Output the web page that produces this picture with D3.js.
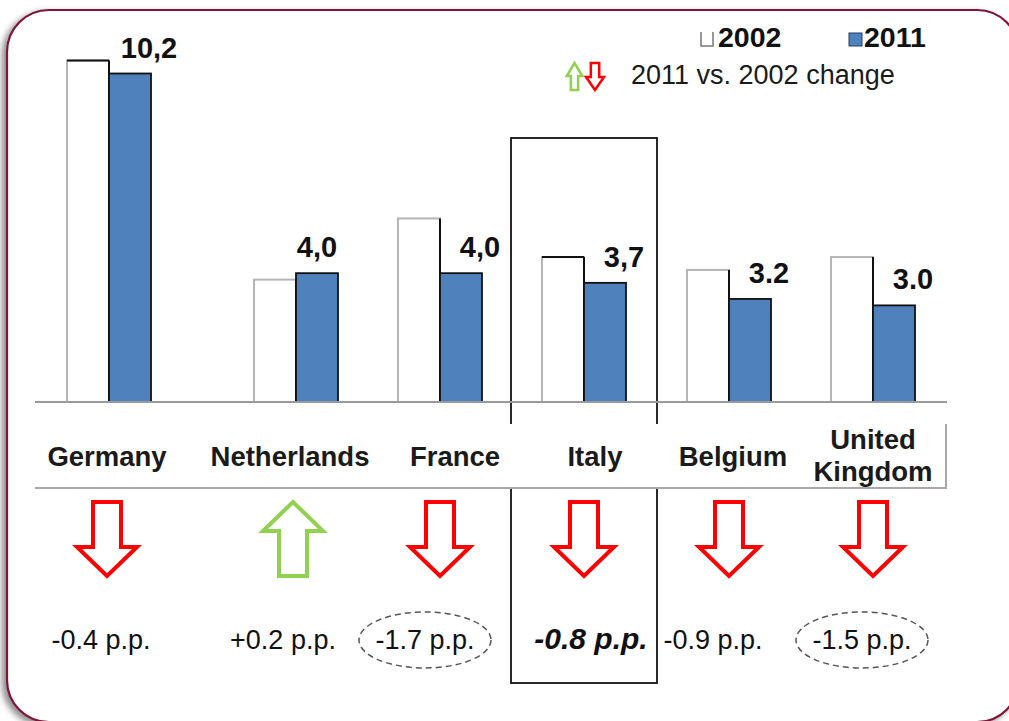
<!DOCTYPE html>
<html>
<head>
<meta charset="utf-8">
<script src="https://cdn.jsdelivr.net/npm/d3@7"></script>
<style>
  html, body { margin: 0; padding: 0; background: #fff; }
  svg { display: block; font-family: "Liberation Sans", Arial, sans-serif; }
</style>
</head>
<body>
<svg id="chart" width="1009" height="721"></svg>
<script>
// Share values by country, 2002 and 2011
const countries   = ["Germany", "Netherlands", "France", "Italy", "Belgium", "United Kingdom"];
const labelLines  = [["Germany"], ["Netherlands"], ["France"], ["Italy"], ["Belgium"], ["United", "Kingdom"]];
const values2002  = [10.6, 3.8, 5.7, 4.5, 4.1, 4.5];
const values2011  = [10.2, 4.0, 4.0, 3.7, 3.2, 3.0];
const valueLabels = ["10,2", "4,0", "4,0", "3,7", "3.2", "3.0"];
const changes     = [-0.4, 0.2, -1.7, -0.8, -0.9, -1.5];
const changeLabels = ["-0.4 p.p.", "+0.2 p.p.", "-1.7 p.p.", "-0.8 p.p.", "-0.9 p.p.", "-1.5 p.p."];
const circled     = ["France", "United Kingdom"];
const highlighted = "Italy";
const years       = ["2002", "2011"];

// Layout
const baseY = 402;
const groupCenters = [109, 296, 440, 584, 729, 873];
const nameShift   = [-2, -6, 15, 11, 4, 0];
const changeShift = [-8, -13, -15, 7, -16, -11];

const svg = d3.select("#chart");
const defs = svg.append("defs");
const shadow = defs.append("filter").attr("id", "frameShadow")
  .attr("x", "-5%").attr("y", "-5%").attr("width", "110%").attr("height", "110%");
shadow.append("feDropShadow").attr("dx", -4).attr("dy", 3).attr("stdDeviation", 3)
  .attr("flood-color", "#000").attr("flood-opacity", 0.45);

// Rounded panel frame
svg.append("rect")
  .attr("x", 7).attr("y", 10).attr("width", 1012).attr("height", 712)
  .attr("rx", 42).attr("ry", 42)
  .attr("fill", "#fff").attr("stroke", "#7d1237").attr("stroke-width", 2.2)
  .attr("filter", "url(#frameShadow)");

const x = d3.scaleOrdinal().domain(countries).range(groupCenters);
const xYear = d3.scaleBand().domain(years).range([-42, 42]).padding(0);
const y = d3.scaleLinear().domain([0, 10.2]).range([baseY, 73.5]);

const rows = countries.map((c, i) => ({
  country: c, lines: labelLines[i], v2002: values2002[i], v2011: values2011[i],
  label: valueLabels[i], change: changes[i], changeLabel: changeLabels[i],
  nameShift: nameShift[i], changeShift: changeShift[i]
}));

// Highlight box around Italy
const hx = x(highlighted);
svg.append("rect")
  .attr("x", hx - 73).attr("y", 138).attr("width", 146).attr("height", 545)
  .attr("fill", "none").attr("stroke", "#111").attr("stroke-width", 1.8);

// Bars
const g = svg.append("g");
rows.forEach(d => {
  const cx = x(d.country);
  const x0 = cx + xYear("2002"), x1 = cx + xYear("2011"), w = xYear.bandwidth();
  // 2002: white bar with light outline
  g.append("rect")
    .attr("x", x0).attr("y", y(d.v2002)).attr("width", w).attr("height", baseY - y(d.v2002))
    .attr("fill", "#fff").attr("stroke", "#b5b5b5").attr("stroke-width", 2);
  if (d.country === "Germany" || d.country === highlighted) {
    g.append("line").attr("x1", x0).attr("x2", x0 + w)
      .attr("y1", y(d.v2002)).attr("y2", y(d.v2002))
      .attr("stroke", "#111").attr("stroke-width", 2);
  }
  g.append("line").attr("x1", x0 + w).attr("x2", x0 + w)
    .attr("y1", y(d.v2002)).attr("y2", baseY)
    .attr("stroke", "#111").attr("stroke-width", 2);
  // 2011: blue bar
  g.append("rect")
    .attr("x", x1).attr("y", y(d.v2011)).attr("width", w).attr("height", baseY - y(d.v2011))
    .attr("fill", "#4f81bd").attr("stroke", "#111").attr("stroke-width", 1.8);
  // value label for 2011
  const dx = d.v2002 > d.v2011 ? 19 : 0;
  g.append("text")
    .attr("x", x1 + w / 2 + dx).attr("y", y(d.v2011) - 16)
    .attr("text-anchor", "middle").attr("font-size", 29).attr("font-weight", "bold")
    .attr("fill", "#111").text(d.label);
});

// Baseline
svg.append("line").attr("x1", 35).attr("x2", 947).attr("y1", baseY).attr("y2", baseY)
  .attr("stroke", "#9a9a9a").attr("stroke-width", 2);

// Category label band
svg.append("rect").attr("x", 35).attr("y", 424).attr("width", 910).attr("height", 64)
  .attr("fill", "#fff");
svg.append("path").attr("d", "M35,488 H946 V424")
  .attr("fill", "none").attr("stroke", "#a8a8a8").attr("stroke-width", 2);

rows.forEach(d => {
  const t = svg.append("text")
    .attr("x", x(d.country) + d.nameShift)
    .attr("y", d.lines.length === 1 ? 466 : 449)
    .attr("text-anchor", "middle").attr("font-size", 27.5).attr("font-weight", "bold")
    .attr("fill", "#1a1a1a");
  d.lines.forEach((ln, k) => {
    t.append("tspan").attr("x", x(d.country) + d.nameShift).attr("dy", k === 0 ? 0 : 32).text(ln);
  });
});

// Change arrows
function arrowPath(cx, top, bottom, up, sx = 1, sy = 1) {
  const sw = 14 * sx, hw = 30 * sx, head = 29 * sy;
  if (!up) {
    return `M${cx - sw},${top} H${cx + sw} V${bottom - head} H${cx + hw} L${cx},${bottom} L${cx - hw},${bottom - head} H${cx - sw} Z`;
  }
  return `M${cx - sw},${bottom} H${cx + sw} V${top + head} H${cx + hw} L${cx},${top} L${cx - hw},${top + head} H${cx - sw} Z`;
}
rows.forEach(d => {
  const up = d.change > 0;
  svg.append("path")
    .attr("d", arrowPath(x(d.country) - (d.country === "Germany" ? 2 : 0) - (up ? 3 : 0), 502, 576, up))
    .attr("fill", "#fff").attr("stroke", up ? "#92d050" : "#ff0000")
    .attr("stroke-width", 4).attr("stroke-linejoin", "miter");
});

// Change labels
rows.forEach(d => {
  const isHi = d.country === highlighted;
  const cx = x(d.country) + d.changeShift;
  svg.append("text")
    .attr("x", cx).attr("y", 649)
    .attr("text-anchor", "middle")
    .attr("font-size", isHi ? 30 : 27)
    .attr("font-weight", isHi ? "bold" : "normal")
    .attr("font-style", isHi ? "italic" : "normal")
    .attr("fill", "#111").text(d.changeLabel);
  if (circled.includes(d.country)) {
    svg.append("ellipse")
      .attr("cx", cx).attr("cy", 640).attr("rx", 66).attr("ry", 28)
      .attr("fill", "none").attr("stroke", "#555").attr("stroke-width", 1.5)
      .attr("stroke-dasharray", "6,4");
  }
});

// Legend
const lg = svg.append("g");
lg.append("path").attr("d", "M701,32 V46 H713 V32").attr("fill", "#fff")
  .attr("stroke", "#777").attr("stroke-width", 1.5);
lg.append("text").attr("x", 718).attr("y", 47).attr("font-size", 28.5).attr("font-weight", "bold")
  .attr("fill", "#111").text(years[0]);
lg.append("rect").attr("x", 849).attr("y", 33).attr("width", 13).attr("height", 13)
  .attr("fill", "#4f81bd").attr("stroke", "#1f3d66").attr("stroke-width", 1);
lg.append("text").attr("x", 864).attr("y", 47).attr("font-size", 28.5).attr("font-weight", "bold")
  .attr("fill", "#111").text(years[1]);
lg.append("path").attr("d", arrowPath(574.5, 63, 90, true, 0.26, 0.45))
  .attr("fill", "#fff").attr("stroke", "#92d050").attr("stroke-width", 2.5);
lg.append("path").attr("d", arrowPath(595, 63, 90, false, 0.3, 0.45))
  .attr("fill", "#fff").attr("stroke", "#ff0000").attr("stroke-width", 2.5);
lg.append("text").attr("x", 631).attr("y", 84).attr("font-size", 27)
  .attr("fill", "#1a1a1a").text("2011 vs. 2002 change");
</script>
</body>
</html>
